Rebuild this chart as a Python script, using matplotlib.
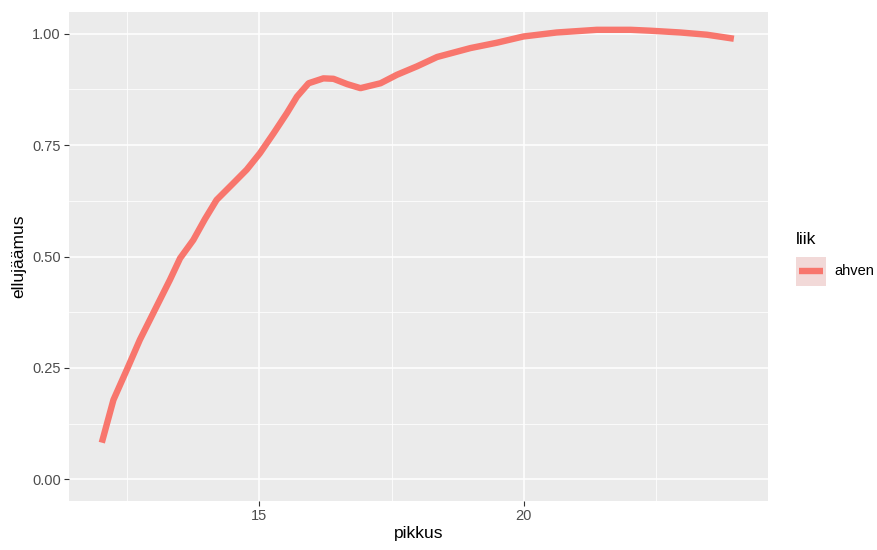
import matplotlib
matplotlib.use("Agg")
import matplotlib.pyplot as plt
from matplotlib.patches import Rectangle
from matplotlib.lines import Line2D

plt.rcParams["font.family"] = ["Liberation Sans", "DejaVu Sans"]

# ── data ────────────────────────────────────────────────────────
pikkus = [12.02, 12.24, 12.52, 12.74, 12.93, 13.12, 13.31, 13.50, 13.75, 13.97,
          14.19, 14.51, 14.76, 15.01, 15.27, 15.52, 15.71, 15.93, 16.21, 16.40,
          16.66, 16.91, 17.29, 17.60, 17.98, 18.36, 18.99, 19.49, 19.99, 20.62,
          21.38, 22.02, 22.39, 22.96, 23.46, 23.97]
ellujaamus = [0.082, 0.178, 0.253, 0.313, 0.358, 0.403, 0.448, 0.496, 0.537, 0.584,
              0.627, 0.665, 0.695, 0.732, 0.777, 0.822, 0.859, 0.889, 0.900, 0.899,
              0.887, 0.878, 0.889, 0.908, 0.927, 0.948, 0.968, 0.980, 0.994, 1.003,
              1.009, 1.009, 1.007, 1.003, 0.998, 0.989]
liik = "ahven"

LINE = "#F8766D"
PANEL = "#EBEBEB"
TXT = "#4D4D4D"

fig = plt.figure(figsize=(8.77, 5.5), dpi=100)
ax = fig.add_axes([69 / 877, 49 / 550, (767.7 - 69) / 877, (501 - 12) / 550])
ax.set_facecolor(PANEL)
for s in ax.spines.values():
    s.set_visible(False)

ax.set_xlim(11.4, 24.61)
ax.set_ylim(-0.049, 1.049)

ax.set_xticks([15, 20])
ax.set_xticks([12.5, 17.5, 22.5], minor=True)
ax.set_yticks([0, 0.25, 0.5, 0.75, 1.0])
ax.set_yticklabels(["0.00", "0.25", "0.50", "0.75", "1.00"])
ax.set_yticks([0.125, 0.375, 0.625, 0.875], minor=True)
ax.grid(which="major", color="white", linewidth=1.1)
ax.grid(which="minor", color="white", linewidth=0.55)
ax.set_axisbelow(True)
ax.tick_params(which="major", length=3.5, width=0.8, color="#333333",
               labelcolor=TXT, labelsize=10.5, pad=2.5)
ax.tick_params(which="minor", length=0)

ax.plot(pikkus, ellujaamus, color=LINE, linewidth=4.6,
        solid_capstyle="butt", solid_joinstyle="round")

ax.set_xlabel("pikkus", fontsize=12.5, color="black", labelpad=2)
ax.set_ylabel("ellujäämus", fontsize=12.5, color="black", labelpad=4)

# legend, drawn in figure pixel coordinates
fig.text(796 / 877, 1 - 240 / 550, "liik", fontsize=12.5, va="center", ha="left")
fig.patches.append(Rectangle((796 / 877, 1 - 285.7 / 550), 29.7 / 877, 29 / 550,
                             transform=fig.transFigure, facecolor="#F2D9D8",
                             edgecolor="none"))
fig.lines.append(Line2D([799 / 877, 822.7 / 877], [1 - 271 / 550] * 2,
                        transform=fig.transFigure, color=LINE, linewidth=4.6,
                        solid_capstyle="butt"))
fig.text(834 / 877, 1 - 271 / 550, liik, fontsize=10.5, va="center", ha="left",
         color="black")

fig.savefig("out.png", dpi=100)
